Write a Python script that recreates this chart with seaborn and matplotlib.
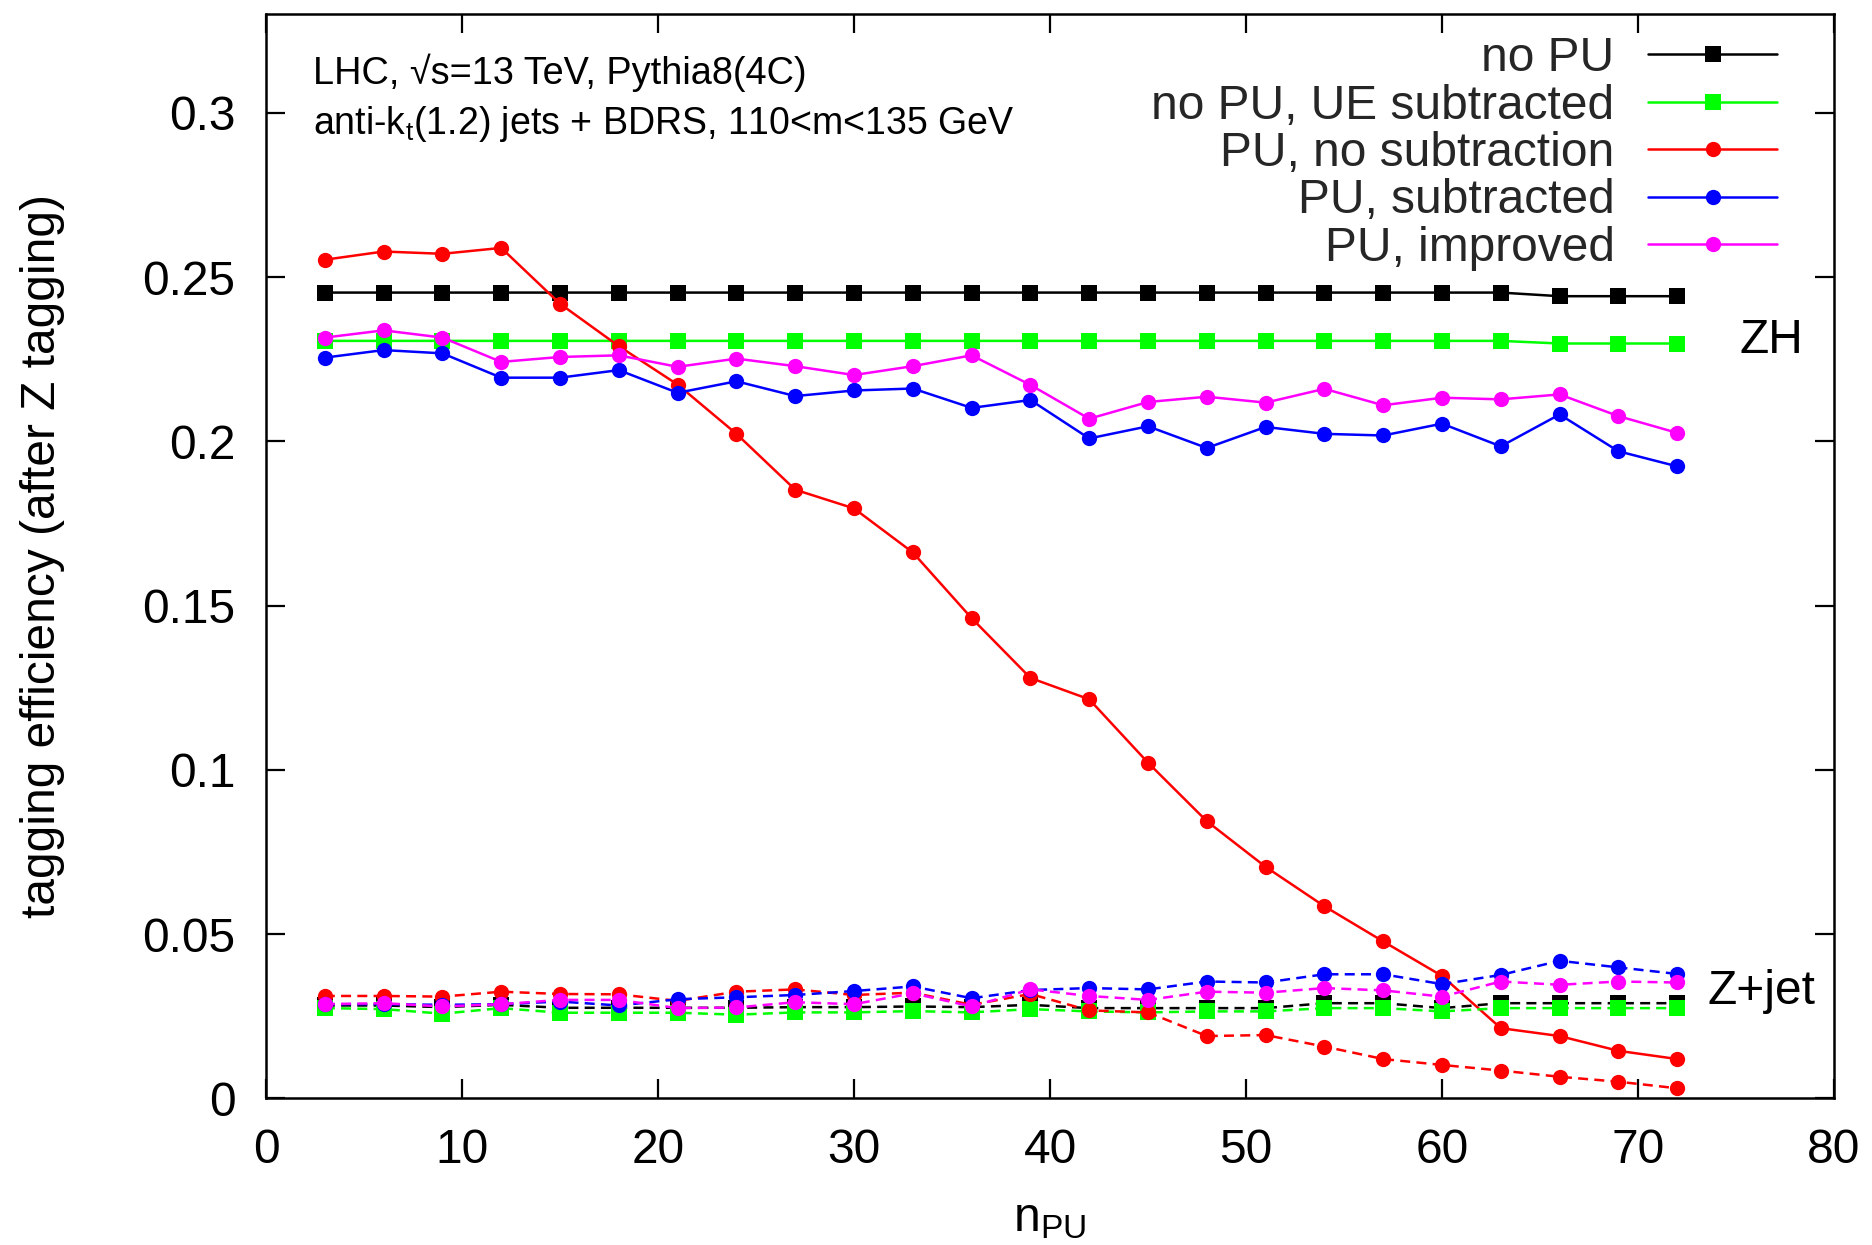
import numpy as np
import pandas as pd
import matplotlib
matplotlib.use("Agg")
import matplotlib.pyplot as plt
import seaborn as sns

# number of pile-up vertices
n_pu = [3, 6, 9, 12, 15, 18, 21, 24, 27, 30, 33, 36,
        39, 42, 45, 48, 51, 54, 57, 60, 63, 66, 69, 72]

# ZH signal efficiencies (solid lines)
zh_nopu = [0.2453, 0.2453, 0.2453, 0.2453, 0.2453, 0.2453, 0.2453, 0.2453,
           0.2453, 0.2453, 0.2453, 0.2453, 0.2453, 0.2453, 0.2453, 0.2453,
           0.2453, 0.2453, 0.2453, 0.2453, 0.2453, 0.2442, 0.2442, 0.2442]
zh_nopu_ue = [0.2306, 0.2306, 0.2306, 0.2306, 0.2306, 0.2306, 0.2306, 0.2306,
              0.2306, 0.2306, 0.2306, 0.2306, 0.2306, 0.2306, 0.2306, 0.2306,
              0.2306, 0.2306, 0.2306, 0.2306, 0.2306, 0.2298, 0.2298, 0.2298]
zh_pu_nosub = [0.2553, 0.2578, 0.2571, 0.2589, 0.2419, 0.2290, 0.2173, 0.2023,
               0.1853, 0.1796, 0.1662, 0.1462, 0.1280, 0.1215, 0.1022, 0.0844,
               0.0705, 0.0585, 0.0478, 0.0373, 0.0214, 0.0190, 0.0145, 0.0120]
zh_pu_sub = [0.2255, 0.2278, 0.2268, 0.2194, 0.2194, 0.2217, 0.2148, 0.2183,
             0.2138, 0.2155, 0.2161, 0.2102, 0.2126, 0.2009, 0.2046, 0.1980,
             0.2044, 0.2023, 0.2018, 0.2054, 0.1985, 0.2082, 0.1970, 0.1924]
zh_pu_impr = [0.2316, 0.2338, 0.2316, 0.2242, 0.2257, 0.2262, 0.2227, 0.2252,
              0.2229, 0.2202, 0.2229, 0.2262, 0.2172, 0.2069, 0.2120, 0.2136,
              0.2118, 0.2160, 0.2110, 0.2133, 0.2128, 0.2143, 0.2077, 0.2026]

# Z+jet background efficiencies (dashed lines)
zj_nopu = [0.0283, 0.0283, 0.0278, 0.0285, 0.0276, 0.0276, 0.0276, 0.0276,
           0.0278, 0.0278, 0.0280, 0.0278, 0.0285, 0.0275, 0.0275, 0.0275,
           0.0275, 0.0290, 0.0290, 0.0275, 0.0290, 0.0290, 0.0290, 0.0290]
zj_nopu_ue = [0.0275, 0.0272, 0.0258, 0.0275, 0.0261, 0.0261, 0.0261, 0.0255,
              0.0262, 0.0262, 0.0266, 0.0262, 0.0272, 0.0265, 0.0262, 0.0265,
              0.0265, 0.0275, 0.0275, 0.0265, 0.0275, 0.0275, 0.0275, 0.0275]
zj_pu_nosub = [0.0312, 0.0312, 0.0310, 0.0325, 0.0318, 0.0317, 0.0297, 0.0325,
               0.0332, 0.0315, 0.0322, 0.0285, 0.0318, 0.0268, 0.0262, 0.0190,
               0.0193, 0.0158, 0.0120, 0.0102, 0.0085, 0.0066, 0.0051, 0.0031]
zj_pu_sub = [0.0287, 0.0287, 0.0285, 0.0287, 0.0295, 0.0283, 0.0302, 0.0308,
             0.0315, 0.0327, 0.0341, 0.0305, 0.0330, 0.0336, 0.0332, 0.0356,
             0.0353, 0.0378, 0.0378, 0.0348, 0.0376, 0.0419, 0.0399, 0.0379]
zj_pu_impr = [0.0287, 0.0290, 0.0280, 0.0287, 0.0300, 0.0300, 0.0275, 0.0277,
              0.0293, 0.0287, 0.0320, 0.0280, 0.0332, 0.0312, 0.0300, 0.0325,
              0.0322, 0.0336, 0.0329, 0.0310, 0.0356, 0.0346, 0.0356, 0.0353]

labels = ["no PU", "no PU, UE subtracted", "PU, no subtraction",
          "PU, subtracted", "PU, improved"]
colors = ["#000000", "#00ff00", "#ff0000", "#0000ff", "#ff00ff"]
markers = ["s", "s", "o", "o", "o"]

sns.set_theme(style="ticks")
plt.rcParams["font.family"] = ["Liberation Sans", "DejaVu Sans"]
plt.rcParams["mathtext.fontset"] = "custom"
plt.rcParams["mathtext.rm"] = "Liberation Sans"
plt.rcParams["mathtext.it"] = "Liberation Sans:italic"

FS = 34.5

fig = plt.figure(figsize=(18.72, 12.45), dpi=100)
ax = fig.add_axes([0.1421, 0.1177, 0.9797 - 0.1421, 0.9885 - 0.1177])

zh_sets = [zh_nopu, zh_nopu_ue, zh_pu_nosub, zh_pu_sub, zh_pu_impr]
zj_sets = [zj_nopu, zj_nopu_ue, zj_pu_nosub, zj_pu_sub, zj_pu_impr]

for vals, lab, col, mk in zip(zh_sets, labels, colors, markers):
    df = pd.DataFrame({"npu": n_pu, "eff": vals})
    sns.lineplot(data=df, x="npu", y="eff", ax=ax, color=col, marker=mk,
                 markersize=11, markeredgewidth=0, linewidth=1.8,
                 estimator=None, sort=False, label=lab)

for vals, col, mk in zip(zj_sets, colors, markers):
    df = pd.DataFrame({"npu": n_pu, "eff": vals})
    sns.lineplot(data=df, x="npu", y="eff", ax=ax, color=col, marker=mk,
                 markersize=11, markeredgewidth=0, linewidth=1.8,
                 linestyle=(0, (4, 2.5)), estimator=None, sort=False,
                 label="_nolegend_")

ax.set_xlim(0, 80)
ax.set_ylim(0, 0.33)
ax.set_xticks(np.arange(0, 81, 10))
ax.set_yticks([0, 0.05, 0.1, 0.15, 0.2, 0.25, 0.3])
ax.set_yticklabels(["0", "0.05", "0.1", "0.15", "0.2", "0.25", "0.3"])
ax.tick_params(axis="both", which="major", direction="in", length=14,
               width=1.6, labelsize=FS, top=True, right=True, color="black",
               labelcolor="black")
ax.tick_params(axis="y", pad=22)
ax.tick_params(axis="x", pad=21)
for sp in ax.spines.values():
    sp.set_visible(True)
    sp.set_linewidth(1.8)
    sp.set_color("black")

ax.set_xlabel(r"n$_\mathregular{PU}$", fontsize=FS, color="black")
ax.set_ylabel("tagging efficiency (after Z tagging)", fontsize=FS,
              color="black")
ax.xaxis.set_label_coords(0.5, -0.09)
ax.yaxis.set_label_coords(-0.128, 0.5)

ax.text(0.03, 0.946, "LHC, \u221as=13 TeV, Pythia8(4C)", transform=ax.transAxes,
        fontsize=27.3, va="center", ha="left", color="black")
ax.text(0.03, 0.899, r"anti-k$_\mathregular{t}$(1.2) jets + BDRS, 110<m<135 GeV",
        transform=ax.transAxes, fontsize=27.0, va="center", ha="left",
        color="black")
ax.text(0.96, 0.2306, "ZH", transform=ax.get_yaxis_transform(),
        fontsize=FS, va="center", ha="center", color="black")
ax.text(0.954, 0.0327, "Z+jet", transform=ax.get_yaxis_transform(),
        fontsize=FS, va="center", ha="center", color="black")

handles = [ln for ln in ax.get_lines() if ln.get_label() in labels]
leg = ax.legend(handles=handles, labels=labels, loc="upper right",
                bbox_to_anchor=(0.9698, 0.9887), frameon=False, fontsize=FS,
                markerfirst=False, handlelength=2.69, handletextpad=0.7,
                labelspacing=0.05, borderpad=0.2, borderaxespad=0.0)

fig.savefig("out.png", dpi=100)
